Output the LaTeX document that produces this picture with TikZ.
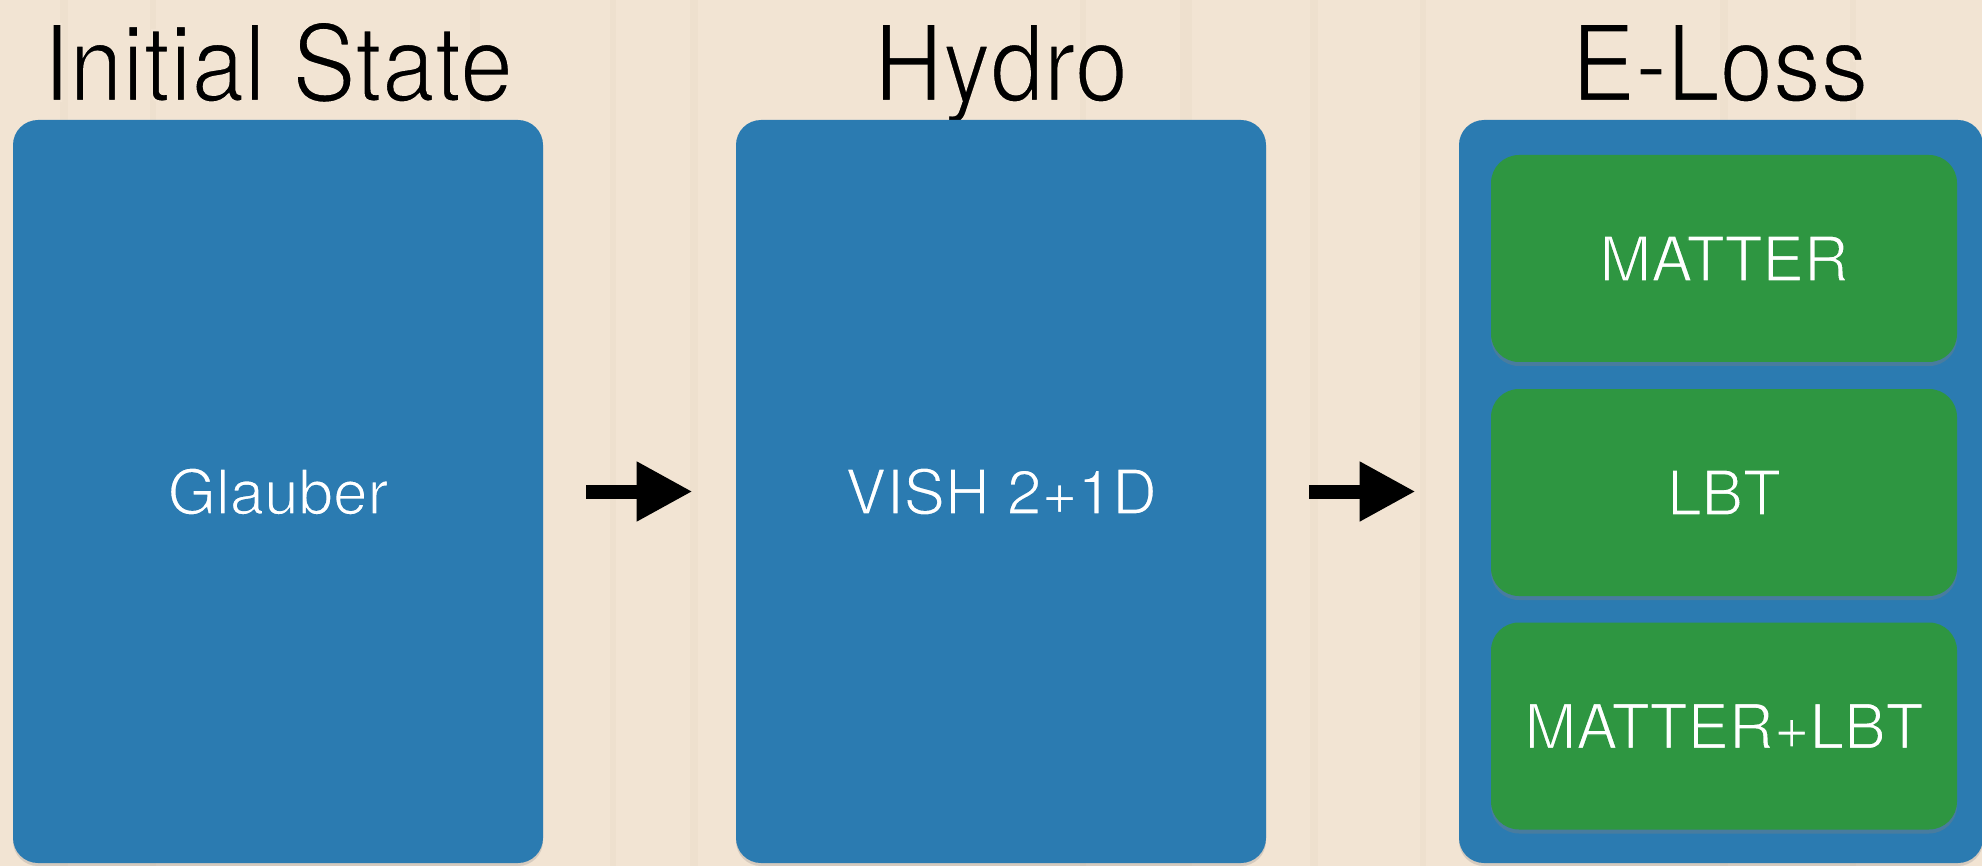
\documentclass[tikz,border=0pt]{standalone}
\usepackage{fontspec}
\setmainfont{TeX Gyre Heros}
\usetikzlibrary{arrows.meta,shadows}

\definecolor{wood}{HTML}{F2E4D3}
\definecolor{grain}{HTML}{E8D8C4}
\definecolor{felt}{HTML}{2B7BB1}
\definecolor{feltgreen}{HTML}{2E9641}

% light lettering: glyphs are filled and outlined in the surface colour,
% which trims their strokes down to a thin weight
\newcommand{\lightset}[3]{\special{pdf:code q 2 Tr #2 w #1 RG}#3\special{pdf:code Q}}
\newcommand{\onwood}[1]{\lightset{0.949 0.894 0.827}{1.1}{#1}}
\newcommand{\onblue}[1]{\lightset{0.169 0.482 0.694}{0.7}{#1}}
\newcommand{\ongreen}[1]{\lightset{0.180 0.588 0.255}{0.7}{#1}}

\tikzset{
  stage/.style={fill=felt, rounded corners=12.5pt, inner sep=0pt,
    minimum height=371.5pt, text=white,
    font=\fontsize{31}{36}\selectfont,
    drop shadow={opacity=0.25, shadow xshift=0pt, shadow yshift=-1.5pt}},
  model/.style={fill=feltgreen, rounded corners=14pt, inner sep=0pt,
    minimum width=233pt, minimum height=103.5pt, text=white,
    font=\fontsize{31}{36}\selectfont,
    drop shadow={opacity=0.35, shadow xshift=0pt, shadow yshift=-2pt}},
  heading/.style={anchor=base, inner sep=0pt, text=black,
    font=\fontsize{53}{58}\selectfont},
  flow/.style={draw=black, line width=7pt,
    -{Triangle[length=28pt, width=28pt]},
    shorten <=21.5pt, shorten >=21.5pt}
}

\begin{document}
\begin{tikzpicture}[x=0.5pt, y=-0.5pt]
  % wooden table top
  \fill[wood] (0,0) rectangle (1982,866);
  \useasboundingbox (0,0) rectangle (1982,866);
  \foreach \gx/\gw in {60/8, 150/6, 470/10, 610/6, 690/8, 1080/6, 1180/12, 1310/8, 1420/6, 1720/8, 1850/6}
    \fill[grain, opacity=0.3] (\gx,0) rectangle ++(\gw,866);

  % headings
  \node[heading] (hinit)  at (278,101)  {\scalebox{0.9}[1]{\onwood{Initial State}}};
  \node[heading] (hhydro) at (1001,101) {\scalebox{0.9}[1]{\onwood{Hydro}}};
  \node[heading] (hloss)  at (1720,101) {\scalebox{0.9}[1]{\onwood{E-Loss}}};

  % pipeline stages
  \node[stage, minimum width=265pt] (glauber) at (278,491.5)  {\onblue{Glauber}};
  \node[stage, minimum width=265pt] (vish)    at (1001,491.5) {\onblue{VISH 2+1D}};
  \node[stage, minimum width=262pt] (eloss)   at (1721,491.5) {};

  % energy-loss models
  \node[model] (matter) at (1724,258.5) {\ongreen{MATTER}};
  \node[model] (lbt)    at (1724,492.5) {\ongreen{LBT}};
  \node[model] (both)   at (1724,726)   {\ongreen{MATTER+LBT}};

  % flow between stages
  \draw[flow] (glauber.east) -- (vish.west);
  \draw[flow] (vish.east) -- (eloss.west);
\end{tikzpicture}
\end{document}
